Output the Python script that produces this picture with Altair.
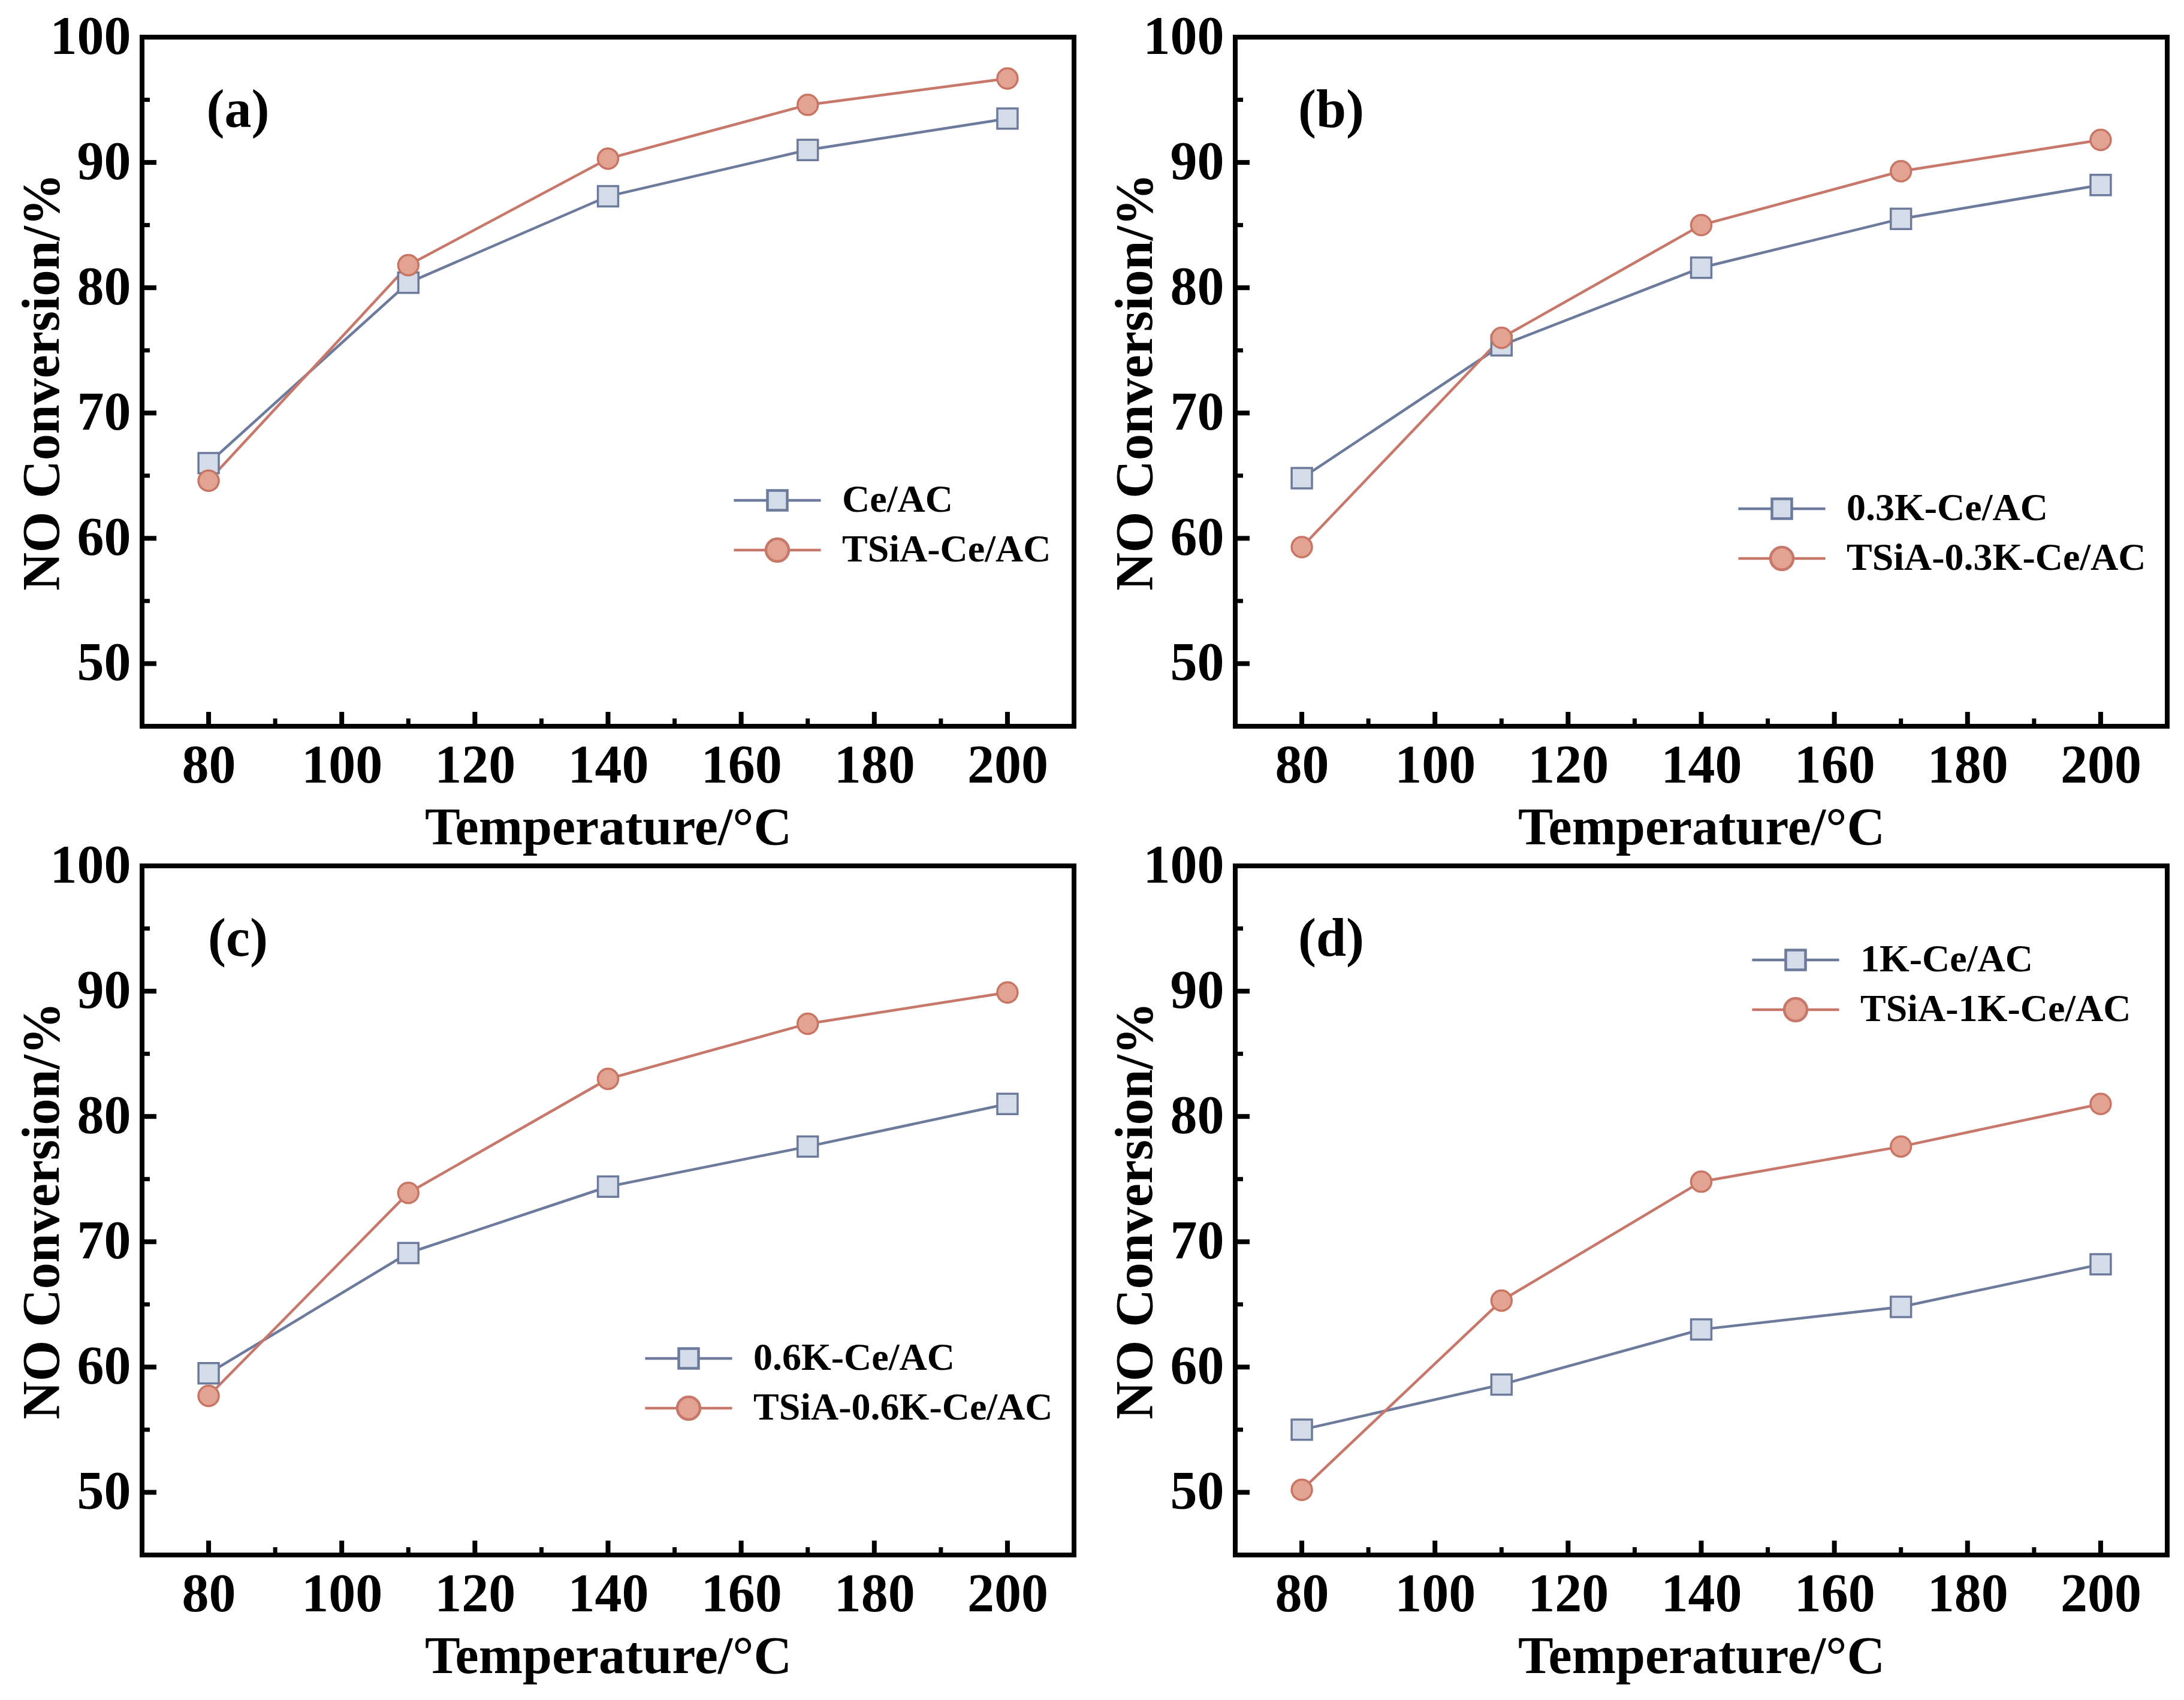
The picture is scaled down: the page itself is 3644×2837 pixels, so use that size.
import altair as alt
import pandas as pd

temps = [80, 110, 140, 170, 200]

a_names = ["Ce/AC", "TSiA-Ce/AC"]
a_base = [66.0, 80.4, 87.3, 91.0, 93.5]
a_tsia = [64.6, 81.8, 90.3, 94.6, 96.7]

b_names = ["0.3K-Ce/AC", "TSiA-0.3K-Ce/AC"]
b_base = [64.8, 75.4, 81.6, 85.5, 88.2]
b_tsia = [59.3, 76.0, 85.0, 89.3, 91.8]

c_names = ["0.6K-Ce/AC", "TSiA-0.6K-Ce/AC"]
c_base = [59.5, 69.1, 74.4, 77.6, 81.0]
c_tsia = [57.7, 73.9, 83.0, 87.4, 89.9]

d_names = ["1K-Ce/AC", "TSiA-1K-Ce/AC"]
d_base = [55.0, 58.6, 63.0, 64.8, 68.2]
d_tsia = [50.2, 65.3, 74.8, 77.6, 81.0]

x_major = [80, 100, 120, 140, 160, 180, 200]
x_minor = [90, 110, 130, 150, 170, 190]
y_major = [50, 60, 70, 80, 90, 100]
y_minor = [55, 65, 75, 85, 95]

W, H = 1555, 1150
FONT = "Liberation Serif"
LINE_COLORS = ["#6c7a9c", "#c8786a"]
FILL_COLORS = ["#d4dbe9", "#e3a393"]
MARK_STROKES = ["#6c7a9c", "#c97563"]

# legend glyphs: short line through the marker
SQ_LEG = "M-4.4,0H-1M1,0H4.4M-1,-1H1V1H-1Z"
CI_LEG = "M-4.4,0H-1.15M1.15,0H4.4M-1.15,0A1.15,1.15,0,1,1,1.15,0A1.15,1.15,0,1,1,-1.15,0Z"

X_TITLE = "Temperature/°C"
Y_TITLE = "NO Conversion/%"


def x_enc(field):
    return alt.X(
        field,
        title=X_TITLE,
        scale=alt.Scale(domain=[70, 210], nice=False, zero=False),
        axis=alt.Axis(values=x_major, labelPadding=22, titlePadding=14,
                      minExtent=112, maxExtent=112),
    )


def y_enc(field):
    return alt.Y(
        field,
        title=Y_TITLE,
        scale=alt.Scale(domain=[45, 100], nice=False, zero=False),
        axis=alt.Axis(values=y_major, labelPadding=19, titlePadding=14,
                      minExtent=108, maxExtent=108),
    )


def panel(label, names, base, tsia, leg_x, leg_y):
    df = pd.DataFrame({
        "T": temps * 2,
        "v": base + tsia,
        "series": [names[0]] * len(temps) + [names[1]] * len(temps),
    })

    lines = alt.Chart(df).mark_line(strokeWidth=4.5).encode(
        x=x_enc("T:Q"),
        y=y_enc("v:Q"),
        stroke=alt.Stroke("series:N", scale=alt.Scale(domain=names, range=LINE_COLORS), legend=None),
    )

    points = alt.Chart(df).mark_point(filled=True, opacity=1, strokeWidth=3.5, size=1150).encode(
        x=x_enc("T:Q"),
        y=y_enc("v:Q"),
        fill=alt.Fill("series:N", scale=alt.Scale(domain=names, range=FILL_COLORS), legend=None),
        stroke=alt.Stroke("series:N", scale=alt.Scale(domain=names, range=MARK_STROKES), legend=None),
        shape=alt.Shape("series:N", scale=alt.Scale(domain=names, range=["square", "circle"]), legend=None),
    )

    leg = alt.Legend(
        title=None, orient="none", legendX=leg_x, legendY=leg_y, padding=0,
        labelFont=FONT, labelFontWeight="bold", labelFontSize=64, labelColor="black",
        labelLimit=2000, labelOffset=76, rowPadding=19, symbolSize=1089, symbolStrokeWidth=4.5,
    )
    legend_layer = alt.Chart(df).transform_filter("false").mark_point(filled=True, opacity=1).encode(
        x=x_enc("T:Q"),
        y=y_enc("v:Q"),
        fill=alt.Fill("series:N", scale=alt.Scale(domain=names, range=FILL_COLORS), legend=leg),
        stroke=alt.Stroke("series:N", scale=alt.Scale(domain=names, range=LINE_COLORS), legend=leg),
        shape=alt.Shape("series:N", scale=alt.Scale(domain=names, range=[SQ_LEG, CI_LEG]), legend=leg),
    )

    ymaj = alt.Chart(pd.DataFrame({"v": y_major})).mark_rule(color="black", strokeWidth=8).encode(
        y=y_enc("v:Q"), x=alt.value(0), x2=alt.value(24))
    ymin = alt.Chart(pd.DataFrame({"v": y_minor})).mark_rule(color="black", strokeWidth=7).encode(
        y=y_enc("v:Q"), x=alt.value(0), x2=alt.value(13))
    xmaj = alt.Chart(pd.DataFrame({"T": x_major})).mark_rule(color="black", strokeWidth=8).encode(
        x=x_enc("T:Q"), y=alt.value(H), y2=alt.value(H - 24))
    xmin = alt.Chart(pd.DataFrame({"T": x_minor})).mark_rule(color="black", strokeWidth=7).encode(
        x=x_enc("T:Q"), y=alt.value(H), y2=alt.value(H - 13))

    tag = alt.Chart(pd.DataFrame({"t": [label]})).mark_text(
        font=FONT, fontWeight="bold", fontSize=90, color="black", align="center", baseline="middle"
    ).encode(x=alt.value(160), y=alt.value(123), text="t:N")

    return (
        alt.layer(ymaj, ymin, xmaj, xmin, lines, points, legend_layer, tag)
        .resolve_scale(fill="independent", stroke="independent", shape="independent")
        .properties(width=W, height=H)
    )


pa = panel("(a)", a_names, a_base, a_tsia, 1028, 741)
pb = panel("(b)", b_names, b_base, b_tsia, 880, 755)
pc = panel("(c)", c_names, c_base, c_tsia, 880, 790)
pd_ = panel("(d)", d_names, d_base, d_tsia, 903, 125)

chart = (
    alt.concat(pa, pb, pc, pd_, columns=2, spacing={"row": 233, "column": 269}, bounds="flush")
    .resolve_scale(x="independent", y="independent", fill="independent",
                   stroke="independent", shape="independent")
    .configure_view(stroke="black", strokeWidth=8)
    .configure_axis(
        labelFont=FONT, labelFontWeight="bold", labelFontSize=90, labelColor="black",
        titleFont=FONT, titleFontWeight="bold", titleFontSize=88, titleColor="black",
        ticks=False, tickSize=0, domain=False, grid=False,
    )
    .properties(background="white", padding={"left": 15, "top": 5, "right": 5, "bottom": 5})
)

chart.save("out.html", embed_options={"renderer": "svg", "actions": False})
